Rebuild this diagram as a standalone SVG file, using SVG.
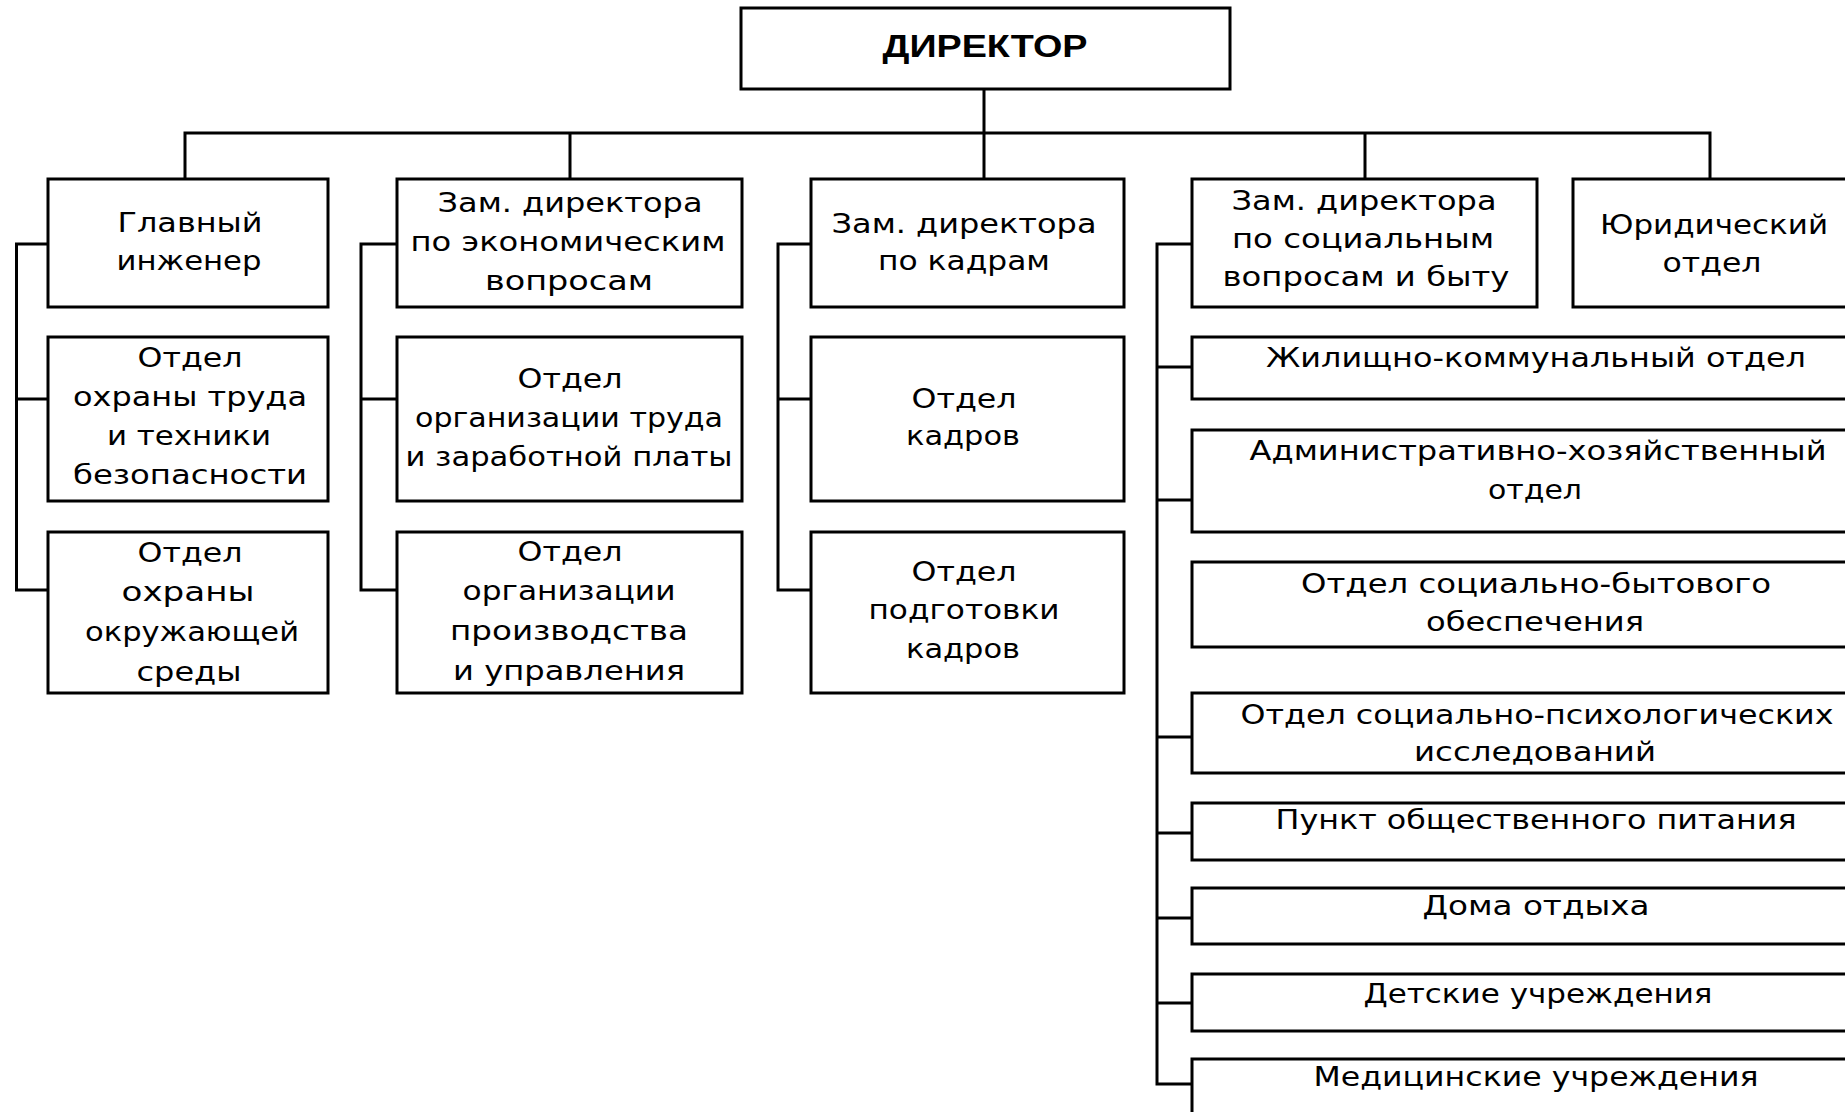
<svg xmlns="http://www.w3.org/2000/svg" width="1845" height="1112" viewBox="0 0 1845 1112">
<style>
.bx{fill:#fff;stroke:#000;stroke-width:3}
.ln{fill:none;stroke:#000;stroke-width:3}
.t{font-family:"DejaVu Sans","Liberation Sans",sans-serif;font-size:26px;text-anchor:middle;fill:#000}
.hb{font-family:"Liberation Sans","DejaVu Sans",sans-serif;font-size:32px;font-weight:bold;text-anchor:middle;fill:#000}
</style>
<rect x="0" y="0" width="1845" height="1112" fill="#fff"/>
<g id="connectors" class="ln">
<path d="M984 89V179M185 179V133H1710V179M570 133V179M1365 133V179"/>
<path d="M48 244H16.5V590H48M16.5 399H48"/>
<path d="M397 244H361V590H397M361 399H397"/>
<path d="M811 244H778V590H811M778 399H811"/>
<path d="M1192 244H1157V1084H1192M1157 367H1192M1157 500H1192M1157 737H1192M1157 833H1192M1157 918H1192M1157 1003H1192"/>
</g>
<g id="director"><rect class="bx" x="741" y="8" width="489" height="81"/><text class="hb" x="985" y="57" textLength="205" lengthAdjust="spacingAndGlyphs">ДИРЕКТОР</text></g>
<g id="chief-engineer"><rect class="bx" x="48" y="179" width="280" height="128"/>
<text class="t" x="190" y="232" textLength="145" lengthAdjust="spacingAndGlyphs">Главный</text>
<text class="t" x="189" y="270" textLength="145" lengthAdjust="spacingAndGlyphs">инженер</text></g>
<g id="deputy-economics"><rect class="bx" x="397" y="179" width="345" height="128"/>
<text class="t" x="570" y="212" textLength="265" lengthAdjust="spacingAndGlyphs">Зам. директора</text>
<text class="t" x="568" y="251" textLength="315" lengthAdjust="spacingAndGlyphs">по экономическим</text>
<text class="t" x="569" y="290" textLength="168" lengthAdjust="spacingAndGlyphs">вопросам</text></g>
<g id="deputy-hr"><rect class="bx" x="811" y="179" width="313" height="128"/>
<text class="t" x="964" y="233" textLength="265" lengthAdjust="spacingAndGlyphs">Зам. директора</text>
<text class="t" x="964" y="270" textLength="172" lengthAdjust="spacingAndGlyphs">по кадрам</text></g>
<g id="deputy-social"><rect class="bx" x="1192" y="179" width="345" height="128"/>
<text class="t" x="1364" y="210" textLength="265" lengthAdjust="spacingAndGlyphs">Зам. директора</text>
<text class="t" x="1363" y="248" textLength="262" lengthAdjust="spacingAndGlyphs">по социальным</text>
<text class="t" x="1366" y="286" textLength="287" lengthAdjust="spacingAndGlyphs">вопросам и быту</text></g>
<g id="legal"><rect class="bx" x="1573" y="179" width="290" height="128"/>
<text class="t" x="1714" y="234" textLength="228" lengthAdjust="spacingAndGlyphs">Юридический</text>
<text class="t" x="1712" y="272" textLength="99" lengthAdjust="spacingAndGlyphs">отдел</text></g>
<g id="labor-safety"><rect class="bx" x="48" y="337" width="280" height="164"/>
<text class="t" x="190" y="367" textLength="105" lengthAdjust="spacingAndGlyphs">Отдел</text>
<text class="t" x="190" y="406" textLength="234" lengthAdjust="spacingAndGlyphs">охраны труда</text>
<text class="t" x="189" y="445" textLength="164" lengthAdjust="spacingAndGlyphs">и техники</text>
<text class="t" x="190" y="484" textLength="234" lengthAdjust="spacingAndGlyphs">безопасности</text></g>
<g id="environment"><rect class="bx" x="48" y="532" width="280" height="161"/>
<text class="t" x="190" y="562" textLength="105" lengthAdjust="spacingAndGlyphs">Отдел</text>
<text class="t" x="188" y="601" textLength="133" lengthAdjust="spacingAndGlyphs">охраны</text>
<text class="t" x="192" y="641" textLength="214" lengthAdjust="spacingAndGlyphs">окружающей</text>
<text class="t" x="189" y="681" textLength="105" lengthAdjust="spacingAndGlyphs">среды</text></g>
<g id="labor-wages"><rect class="bx" x="397" y="337" width="345" height="164"/>
<text class="t" x="570" y="388" textLength="105" lengthAdjust="spacingAndGlyphs">Отдел</text>
<text class="t" x="569" y="427" textLength="308" lengthAdjust="spacingAndGlyphs">организации труда</text>
<text class="t" x="569" y="466" textLength="327" lengthAdjust="spacingAndGlyphs">и заработной платы</text></g>
<g id="production-org"><rect class="bx" x="397" y="532" width="345" height="161"/>
<text class="t" x="570" y="561" textLength="105" lengthAdjust="spacingAndGlyphs">Отдел</text>
<text class="t" x="569" y="600" textLength="213" lengthAdjust="spacingAndGlyphs">организации</text>
<text class="t" x="569" y="640" textLength="238" lengthAdjust="spacingAndGlyphs">производства</text>
<text class="t" x="569" y="680" textLength="232" lengthAdjust="spacingAndGlyphs">и управления</text></g>
<g id="hr-dept"><rect class="bx" x="811" y="337" width="313" height="164"/>
<text class="t" x="964" y="408" textLength="105" lengthAdjust="spacingAndGlyphs">Отдел</text>
<text class="t" x="963" y="445" textLength="114" lengthAdjust="spacingAndGlyphs">кадров</text></g>
<g id="training"><rect class="bx" x="811" y="532" width="313" height="161"/>
<text class="t" x="964" y="581" textLength="105" lengthAdjust="spacingAndGlyphs">Отдел</text>
<text class="t" x="964" y="619" textLength="191" lengthAdjust="spacingAndGlyphs">подготовки</text>
<text class="t" x="963" y="658" textLength="114" lengthAdjust="spacingAndGlyphs">кадров</text></g>
<g id="housing"><rect class="bx" x="1192" y="337" width="690" height="62"/>
<text class="t" x="1536" y="367" textLength="540" lengthAdjust="spacingAndGlyphs">Жилищно-коммунальный отдел</text></g>
<g id="admin"><rect class="bx" x="1192" y="430" width="690" height="102"/>
<text class="t" x="1538" y="460" textLength="577" lengthAdjust="spacingAndGlyphs">Административно-хозяйственный</text>
<text class="t" x="1535" y="499" textLength="94" lengthAdjust="spacingAndGlyphs">отдел</text></g>
<g id="social-services"><rect class="bx" x="1192" y="562" width="690" height="85"/>
<text class="t" x="1536" y="593" textLength="470" lengthAdjust="spacingAndGlyphs">Отдел социально-бытового</text>
<text class="t" x="1535" y="631" textLength="218" lengthAdjust="spacingAndGlyphs">обеспечения</text></g>
<g id="psychology"><rect class="bx" x="1192" y="693" width="690" height="80"/>
<text class="t" x="1537" y="724" textLength="593" lengthAdjust="spacingAndGlyphs">Отдел социально-психологических</text>
<text class="t" x="1535" y="761" textLength="242" lengthAdjust="spacingAndGlyphs">исследований</text></g>
<g id="catering"><rect class="bx" x="1192" y="803" width="690" height="57"/>
<text class="t" x="1536" y="829" textLength="521" lengthAdjust="spacingAndGlyphs">Пункт общественного питания</text></g>
<g id="rest-homes"><rect class="bx" x="1192" y="888" width="690" height="56"/>
<text class="t" x="1536" y="915" textLength="227" lengthAdjust="spacingAndGlyphs">Дома отдыха</text></g>
<g id="children"><rect class="bx" x="1192" y="974" width="690" height="57"/>
<text class="t" x="1538" y="1003" textLength="349" lengthAdjust="spacingAndGlyphs">Детские учреждения</text></g>
<g id="medical"><rect class="bx" x="1192" y="1059" width="690" height="80"/>
<text class="t" x="1536" y="1086" textLength="445" lengthAdjust="spacingAndGlyphs">Медицинские учреждения</text></g>
</svg>
